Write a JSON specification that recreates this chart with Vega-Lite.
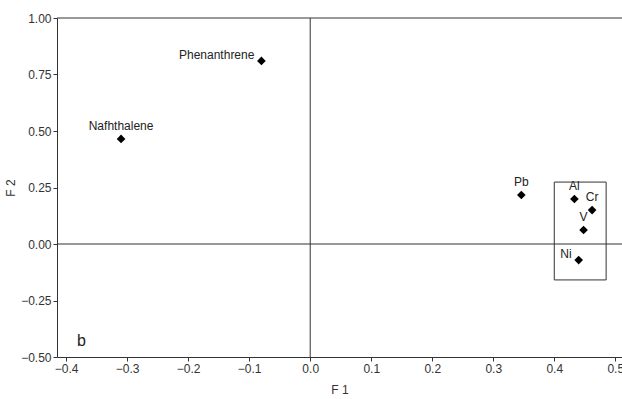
{
  "$schema": "https://vega.github.io/schema/vega-lite/v6.json",
  "autosize": "none",
  "width": 565,
  "height": 339,
  "padding": {"left": 57, "top": 18, "right": 0, "bottom": 42},
  "background": "white",
  "config": {
    "view": {"stroke": null},
    "font": "Liberation Sans",
    "axis": {
      "grid": false,
      "domainColor": "#333333",
      "tickColor": "#333333",
      "labelColor": "#333333",
      "titleColor": "#333333",
      "labelFont": "Liberation Sans",
      "titleFont": "Liberation Sans",
      "labelFontSize": 12,
      "titleFontSize": 12,
      "titleFontWeight": "normal",
      "tickSize": 4
    }
  },
  "datasets": {
    "pts": [
      {"name": "Phenanthrene", "F1": -0.080, "F2": 0.810},
      {"name": "Nafhthalene", "F1": -0.310, "F2": 0.465},
      {"name": "Pb", "F1": 0.346, "F2": 0.217},
      {"name": "Al", "F1": 0.433, "F2": 0.199},
      {"name": "Cr", "F1": 0.462, "F2": 0.150},
      {"name": "V", "F1": 0.448, "F2": 0.062},
      {"name": "Ni", "F1": 0.440, "F2": -0.071}
    ]
  },
  "layer": [
    {
      "data": {"values": [{"x": 0}]},
      "mark": {"type": "rule", "color": "#333333", "strokeWidth": 1},
      "encoding": {"x": {"field": "x", "type": "quantitative"}}
    },
    {
      "data": {"values": [{"y": 0}, {"y": 1}]},
      "mark": {"type": "rule", "color": "#333333", "strokeWidth": 1},
      "encoding": {"y": {"field": "y", "type": "quantitative"}}
    },
    {
      "data": {"values": [{"x1": 0.4, "x2": 0.485, "y1": -0.159, "y2": 0.274}]},
      "mark": {"type": "rect", "fill": null, "fillOpacity": 0, "stroke": "#333333", "strokeWidth": 1},
      "encoding": {
        "x": {"field": "x1", "type": "quantitative"},
        "x2": {"field": "x2"},
        "y": {"field": "y1", "type": "quantitative"},
        "y2": {"field": "y2"}
      }
    },
    {
      "data": {"name": "pts"},
      "mark": {"type": "point", "shape": "diamond", "filled": true, "color": "black", "size": 75, "opacity": 1},
      "encoding": {
        "x": {
          "field": "F1", "type": "quantitative", "title": "F 1",
          "scale": {"domain": [-0.415, 0.511], "nice": false, "zero": false},
          "axis": {"values": [-0.4, -0.3, -0.2, -0.1, 0, 0.1, 0.2, 0.3, 0.4, 0.5], "format": ".1f", "titlePadding": 10}
        },
        "y": {
          "field": "F2", "type": "quantitative", "title": "F 2",
          "scale": {"domain": [-0.5, 1.0], "nice": false, "zero": false},
          "axis": {"values": [-0.5, -0.25, 0, 0.25, 0.5, 0.75, 1.0], "format": ".2f", "titlePadding": 3}
        }
      }
    },
    {
      "data": {"name": "pts"},
      "transform": [{"filter": "datum.name !== 'Phenanthrene' && datum.name !== 'Ni'"}],
      "mark": {"type": "text", "align": "center", "baseline": "bottom", "dy": -6, "fontSize": 12, "color": "#222222"},
      "encoding": {
        "x": {"field": "F1", "type": "quantitative"},
        "y": {"field": "F2", "type": "quantitative"},
        "text": {"field": "name"}
      }
    },
    {
      "data": {"name": "pts"},
      "transform": [{"filter": "datum.name === 'Phenanthrene' || datum.name === 'Ni'"}],
      "mark": {"type": "text", "align": "right", "baseline": "bottom", "dx": -7, "dy": 1, "fontSize": 12, "color": "#222222"},
      "encoding": {
        "x": {"field": "F1", "type": "quantitative"},
        "y": {"field": "F2", "type": "quantitative"},
        "text": {"field": "name"}
      }
    },
    {
      "data": {"values": [{"x": -0.375, "y": -0.43, "t": "b"}]},
      "mark": {"type": "text", "align": "center", "baseline": "middle", "fontSize": 16, "color": "#222222"},
      "encoding": {
        "x": {"field": "x", "type": "quantitative"},
        "y": {"field": "y", "type": "quantitative"},
        "text": {"field": "t"}
      }
    }
  ]
}
